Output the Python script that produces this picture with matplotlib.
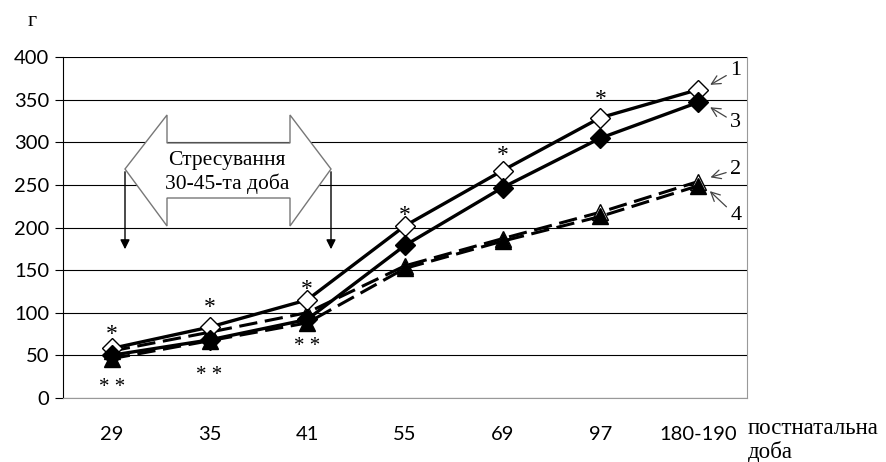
import matplotlib.pyplot as plt
from matplotlib.patches import Polygon

days = ["29", "35", "41", "55", "69", "97", "180-190"]
s1 = [58, 83, 115, 202, 267, 329, 362]   # open diamond, solid
s3 = [50, 68, 92, 179, 247, 305, 347]    # filled diamond, solid
s2 = [55, 77, 100, 155, 187, 218, 254]   # open triangle, dashed
s4 = [46, 67, 88, 152, 184, 213, 249]    # filled triangle, dashed

# significance marks: index and y level
one_star = [0, 1, 2, 3, 4, 5]
one_star_y = [74, 106, 127, 214, 285, 350]
two_star = [0, 1, 2]
two_star_y = [12, 26, 60]

serif = "Liberation Serif"

fig = plt.figure(figsize=(8.87, 4.62), dpi=100)
ax = fig.add_axes([0.071, 0.139, 0.771, 0.737])
x = list(range(len(days)))

ax.plot(x, s2, color="black", lw=2.2, ls=(0, (6, 2.5)), marker="^", ms=12,
        mfc="white", mec="black", mew=1, zorder=3)
ax.plot(x, s4, color="black", lw=2.2, ls=(0, (6, 2.5)), marker="^", ms=12,
        mfc="black", mec="black", zorder=4)
ax.plot(x, s1, color="black", lw=2.4, marker="D", ms=10,
        mfc="white", mec="black", mew=1, zorder=5)
ax.plot(x, s3, color="black", lw=2.4, marker="D", ms=10,
        mfc="black", mec="black", zorder=6)

for i, yv in zip(one_star, one_star_y):
    ax.text(x[i], yv, "*", ha="center", va="center", fontsize=17,
            family=serif)
for i, yv in zip(two_star, two_star_y):
    ax.text(x[i], yv, "* *", ha="center", va="center", fontsize=15,
            family=serif)

ax.set_xlim(-0.5, 6.5)
ax.set_ylim(0, 400)
ax.set_yticks(range(0, 401, 50))
ax.set_xticks(x)
ax.set_xticklabels(days)
ax.yaxis.grid(True, color="black", lw=0.8)
ax.set_axisbelow(True)
ax.tick_params(axis="x", length=0, pad=20, labelsize=14.5)
ax.tick_params(axis="y", length=6, width=0.8, pad=4, labelsize=14.5)
for lab in ax.get_xticklabels() + ax.get_yticklabels():
    lab.set_family("Lato")
ax.spines["top"].set_visible(False)
ax.spines["left"].set_color("black")
ax.spines["right"].set_color("#999999")
ax.spines["bottom"].set_color("#999999")

# double arrow of the stress period
arrow = [(125, 169), (167, 115), (167, 143), (290, 143), (290, 115),
         (331, 169), (290, 226), (290, 198), (167, 198), (167, 226)]
arrow = [(px / 887, 1 - py / 462) for px, py in arrow]
fig.patches.append(Polygon(arrow, closed=True, transform=fig.transFigure,
                           facecolor="white", edgecolor="#777777", lw=1,
                           zorder=7))
fig.text(227 / 887, 1 - 161 / 462, "Стресування", ha="center", va="center",
         fontsize=15.5, family=serif, zorder=8)
fig.text(227 / 887, 1 - 184 / 462, "30-45-та доба", ha="center", va="center",
         fontsize=15.5, family=serif, zorder=8)
for px in (125, 331):
    ax.annotate("", xy=(px / 887, 1 - 252 / 462), xycoords="figure fraction",
                xytext=(px / 887, 1 - 169 / 462), textcoords="figure fraction",
                arrowprops=dict(arrowstyle="-|>", color="black", lw=1,
                                mutation_scale=14), zorder=8)

# series numbers
last = x[-1]
labels = [("1", s1[-1], 385), ("3", s3[-1], 323), ("2", s2[-1], 268),
          ("4", s4[-1], 214)]
for num, yv, ty in labels:
    ax.annotate(num, xy=(last + 0.1, yv + (4 if num in "12" else -4)),
                xytext=(last + 0.33, ty), fontsize=16, family=serif,
                va="center", ha="left",
                arrowprops=dict(arrowstyle="->", color="#444444", lw=0.9,
                                shrinkA=1, shrinkB=2))

fig.text(32 / 887, 1 - 22 / 462, "г", ha="center", va="center", fontsize=16,
         family=serif)
fig.text(748 / 887, 1 - 428 / 462, "постнатальна", ha="left", va="center",
         fontsize=16.5, family=serif)
fig.text(748 / 887, 1 - 452 / 462, "доба", ha="left", va="center",
         fontsize=16.5, family=serif)

fig.savefig("out.png", dpi=100)
